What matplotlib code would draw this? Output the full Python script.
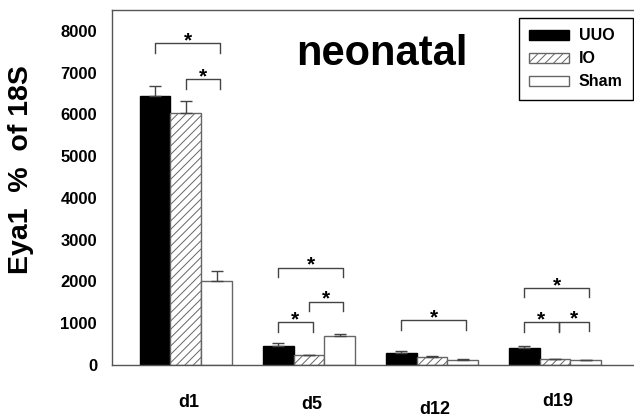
import numpy as np
import matplotlib
matplotlib.use("Agg")
import matplotlib.pyplot as plt
from matplotlib.transforms import blended_transform_factory

plt.rcParams["font.family"] = ["Liberation Sans", "DejaVu Sans"]
plt.rcParams["font.weight"] = "bold"
plt.rcParams["hatch.linewidth"] = 0.7

days = ["d1", "d5", "d12", "d19"]
groups = ["UUO", "IO", "Sham"]
uuo = [6430, 455, 287, 400]
uuo_err = [240, 65, 50, 50]
io = [6030, 235, 200, 140]
io_err = [290, 15, 10, 10]
sham = [2000, 690, 120, 112]
sham_err = [260, 60, 20, 5]

# significance brackets: (day index, bar a, bar b, bracket height)
brackets = [
    (0, 0, 2, 7700),
    (0, 1, 2, 6840),
    (1, 0, 2, 2320),
    (1, 0, 1, 1020),
    (1, 1, 2, 1520),
    (2, 0, 2, 1070),
    (3, 0, 2, 1840),
    (3, 0, 1, 1020),
    (3, 1, 2, 1030),
]

W, H = 634, 417
fig = plt.figure(figsize=(W / 100, H / 100), dpi=100)
ax = fig.add_axes([112 / W, 1 - 365 / H, 1 - 112 / W, (365 - 10) / H])

x = np.arange(len(days))
width = 0.25
grey = "#555555"
styles = [
    dict(color="black", edgecolor="black"),
    dict(color="white", edgecolor="#666666", hatch="////"),
    dict(color="white", edgecolor="#666666"),
]
series = [(uuo, uuo_err), (io, io_err), (sham, sham_err)]
handles = []
for k, ((vals, errs), st) in enumerate(zip(series, styles)):
    pos = x + (k - 1) * width
    b = ax.bar(pos, vals, width, linewidth=1, label=groups[k], zorder=2, **st)
    handles.append(b)
    ax.errorbar(pos, vals, yerr=[np.zeros(len(errs)), errs], fmt="none",
                ecolor="#444444", elinewidth=1, capsize=4, capthick=1, zorder=3)

arm = 220
for g, a, b, h in brackets:
    xa = g + (a - 1) * width + (0.03 if a == 1 and g == 3 else 0)
    xb = g + (b - 1) * width + 0.03
    ax.plot([xa, xa, xb, xb], [h - arm, h, h, h - arm], color="#444444",
            lw=1, zorder=3)
    ax.annotate("*", ((xa + xb) / 2, h), xytext=(0, -2), textcoords="offset points",
                ha="center", va="baseline", fontsize=15, fontweight="bold")

ax.set_xlim(-0.60, 3.642)
ax.set_ylim(0, 8500)
ax.set_yticks(np.arange(0, 8001, 1000))
ax.set_xticks([])
ax.tick_params(axis="y", length=0, pad=10.8, labelsize=12)
for lab in ax.get_yticklabels():
    lab.set_fontweight("bold")
ax.spines["right"].set_visible(False)
for s in ["left", "bottom", "top"]:
    ax.spines[s].set_color(grey)
    ax.spines[s].set_linewidth(1)

trans = blended_transform_factory(ax.transData, ax.transAxes)
label_y = [-0.107, -0.110, -0.124, -0.104]
for i, d in enumerate(days):
    ax.text(x[i] + 0.02, label_y[i], d, transform=trans, ha="center",
            va="center", fontsize=13, fontweight="bold")

fig.text(21 / W, 1 - 170 / H, "Eya1  %  of 18S", rotation=90, ha="center",
         va="center", fontsize=20.5, fontweight="bold")
fig.text(382 / W, 1 - 65 / H, "neonatal", ha="center", va="baseline",
         fontsize=30, fontweight="bold")

leg = ax.legend(handles=handles, loc="upper right",
                bbox_to_anchor=(633 / W, 1 - 18 / H), bbox_transform=fig.transFigure,
                borderaxespad=0, fancybox=False, framealpha=1, edgecolor="black",
                prop=dict(size=11.5, weight="bold"), handlelength=2.5,
                handleheight=0.55, handletextpad=0.6, labelspacing=0.5,
                borderpad=0.65)
leg.get_frame().set_linewidth(1)

fig.savefig("out.png", dpi=100)
